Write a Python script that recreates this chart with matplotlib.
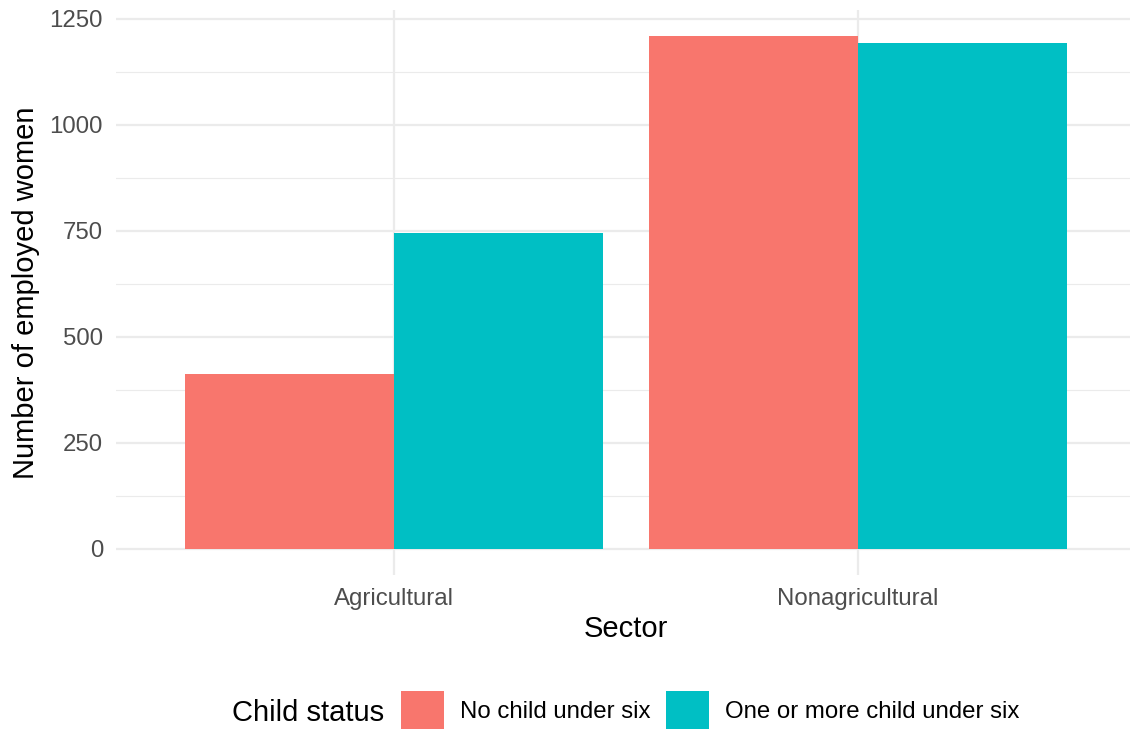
import matplotlib
matplotlib.use("Agg")
import matplotlib.pyplot as plt
import numpy as np
from matplotlib.patches import Patch

plt.rcParams['font.family'] = ['Liberation Sans', 'DejaVu Sans']

sectors = ["Agricultural", "Nonagricultural"]
groups = ["No child under six", "One or more child under six"]
no_child = [413, 1210]
with_child = [745, 1193]
colors = ["#F8766D", "#00BFC4"]
yticks = [0, 250, 500, 750, 1000, 1250]
yminor = [125, 375, 625, 875, 1125]

W, H = 1130, 729
fig = plt.figure(figsize=(W / 100, H / 100), dpi=100)
left, right = 115.6, 1136.4
top, bottom = 10.3, 574.6
ax = fig.add_axes([left / W, 1 - bottom / H, (right - left) / W, (bottom - top) / H])

x = np.arange(1, len(sectors) + 1)
bw = 0.45
ax.bar(x - bw / 2, no_child, width=bw, color=colors[0], zorder=3, label=groups[0])
ax.bar(x + bw / 2, with_child, width=bw, color=colors[1], zorder=3, label=groups[1])

ymax = max(max(no_child), max(with_child))
ax.set_xlim(0.4, 2.6)
ax.set_ylim(-0.05 * ymax, 1.05 * ymax)

grid_c = "#EBEBEB"
for v in yticks:
    ax.axhline(v, color=grid_c, lw=1.6, zorder=1)
for v in yminor:
    ax.axhline(v, color=grid_c, lw=0.8, zorder=1)
for v in x:
    ax.axvline(v, color=grid_c, lw=1.6, zorder=1)

ax.set_xticks(x)
ax.set_xticklabels(sectors)
ax.set_yticks(yticks)
ax.set_yticklabels([str(v) for v in yticks])
ax.tick_params(axis='both', length=0, labelsize=17.3, labelcolor="#4D4D4D")
ax.tick_params(axis='x', pad=10)
ax.tick_params(axis='y', pad=9)
for s in ax.spines.values():
    s.set_visible(False)

ax.set_xlabel("Sector", fontsize=21, labelpad=3)
ax.set_ylabel("Number of employed women", fontsize=21, labelpad=7)

handles = [Patch(facecolor=colors[0], edgecolor='none'), Patch(facecolor=colors[1], edgecolor='none')]
fig.text(232 / W, 1 - 713 / H, "Child status", fontsize=21, ha='left', va='center')
leg = fig.legend(handles, groups, loc='center left', bbox_to_anchor=(401 / W, 1 - 710 / H),
                 ncol=2, frameon=False, fontsize=17.3, handlelength=1.8, handleheight=2.05,
                 handletextpad=0.65, columnspacing=0.65, borderaxespad=0, borderpad=0)

fig.savefig("out.png", dpi=100)
